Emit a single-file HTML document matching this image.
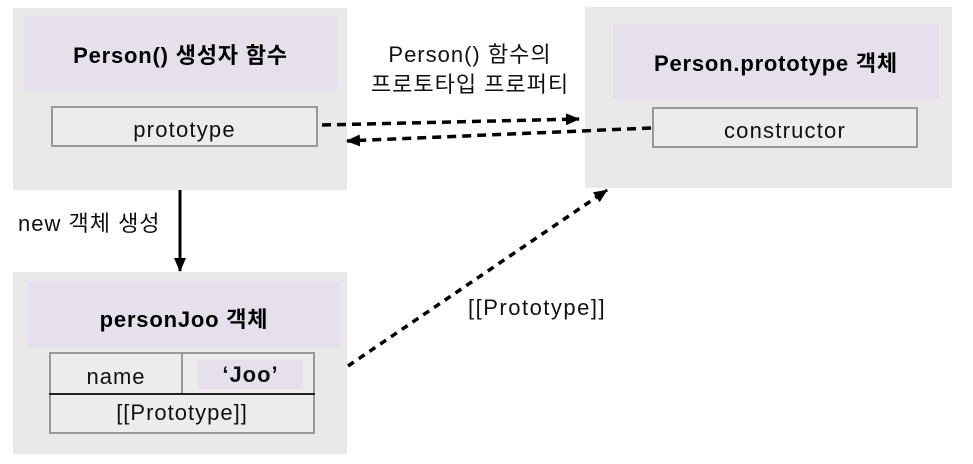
<!DOCTYPE html>
<html><head><meta charset="utf-8"><style>
body{margin:0;width:973px;height:464px;background:#fff;position:relative;overflow:hidden;font-family:"Liberation Sans","Noto Sans CJK KR",sans-serif;}
.a{position:absolute;box-sizing:border-box;}
.bg{background:#e9e9e9;}
.hd{background:#e6e0ec;display:flex;align-items:center;justify-content:center;font-weight:bold;font-size:22px;letter-spacing:0.8px;color:#000;}
.bx{border:2px solid #999;background:#ececec;display:flex;align-items:center;justify-content:center;font-size:22px;letter-spacing:1.2px;color:#111;padding-top:6px;}
.t{position:absolute;font-size:22px;letter-spacing:1px;color:#111;white-space:nowrap;}
</style></head><body>
<div class="a bg" style="left:13px;top:8px;width:334px;height:182px"></div>
<div class="a hd" style="left:24px;top:16px;width:313px;height:75px">Person() 생성자 함수</div>
<div class="a bx" style="left:51px;top:106px;width:267px;height:41px">prototype</div>

<div class="a bg" style="left:585px;top:7px;width:367px;height:181px"></div>
<div class="a hd" style="left:613px;top:24px;width:326px;height:75px">Person.prototype 객체</div>
<div class="a bx" style="left:652px;top:107px;width:266px;height:41px">constructor</div>

<div class="a bg" style="left:13px;top:272px;width:334px;height:182px"></div>
<div class="a hd" style="left:28px;top:281px;width:312px;height:67px;padding-top:6px">personJoo 객체</div>
<div class="a" style="left:49px;top:352px;width:266px;height:82px;border:2px solid #999;background:#ececec"></div>
<div class="a" style="left:181px;top:352px;width:2px;height:42px;background:#999"></div>
<div class="a" style="left:49px;top:393px;width:266px;height:2px;background:#222"></div>
<div class="a" style="left:198px;top:360px;width:105px;height:29px;background:#e6e0ec"></div>
<div class="t" style="left:51px;top:364px;width:130px;text-align:center">name</div>
<div class="t" style="left:198px;top:362px;width:105px;text-align:center;font-weight:bold">‘Joo’</div>
<div class="t" style="left:49px;top:400px;width:266px;text-align:center">[[Prototype]]</div>

<div class="t" style="left:360px;top:40px;width:220px;text-align:center;line-height:30px">Person() 함수의<br>프로토타입 프로퍼티</div>
<div class="t" style="left:18px;top:206px">new 객체 생성</div>
<div class="t" style="left:468px;top:295px;letter-spacing:1.5px">[[Prototype]]</div>

<svg class="a" style="left:0;top:0" width="973" height="464">
<defs><marker id="m2" markerWidth="14" markerHeight="12" refX="13" refY="6" orient="auto" markerUnits="userSpaceOnUse"><path d="M0,0 L14,6 L0,12 z" fill="#000"/></marker></defs>
<line x1="322" y1="125" x2="579" y2="119" stroke="#000" stroke-width="3.5" stroke-dasharray="9,6" marker-end="url(#m2)"/>
<line x1="651" y1="128" x2="347" y2="141" stroke="#000" stroke-width="3.5" stroke-dasharray="9,6" marker-end="url(#m2)"/>
<line x1="348" y1="366" x2="607" y2="190" stroke="#000" stroke-width="3.5" stroke-dasharray="7,6" marker-end="url(#m2)"/>
<line x1="180" y1="190" x2="180" y2="271" stroke="#000" stroke-width="3" marker-end="url(#m2)"/>
</svg>
</body></html>
